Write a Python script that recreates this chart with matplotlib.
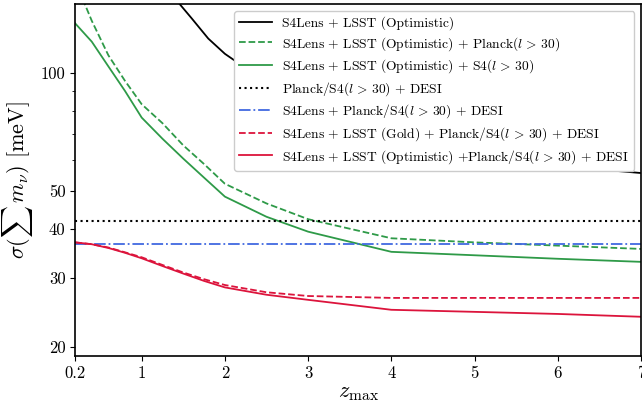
import numpy as np
import matplotlib
matplotlib.use("Agg")
import matplotlib.pyplot as plt
from matplotlib.ticker import FixedLocator, FixedFormatter, NullFormatter

plt.rcParams['font.family'] = 'serif'
plt.rcParams['font.serif'] = ['cmr10', 'DejaVu Serif']
plt.rcParams['mathtext.fontset'] = 'cm'
plt.rcParams['axes.unicode_minus'] = False
plt.rcParams['axes.formatter.use_mathtext'] = True

# z_max grid
z_black = [1.0, 1.2, 1.4, 1.6, 1.8, 2.0, 3.0, 4.0, 5.0, 6.0, 7.0]
s_black = [205, 176, 155, 138, 122.5, 112, 80, 66, 61, 58, 55.6]

z_green = [0.2, 0.4, 0.6, 0.8, 1.0, 1.25, 1.5, 1.75, 2.0, 2.5, 3.0, 4.0, 5.0, 6.0, 7.0]
s_green_planck = [172, 136, 111, 95.5, 83.3, 74.5, 65.4, 58.6, 52.2, 46.5, 42.4, 37.9, 37.0, 36.3, 35.6]
s_green_s4 = [134, 120.3, 104, 90, 77, 68, 60.5, 54.1, 48.4, 43.0, 39.4, 35.0, 34.3, 33.6, 33.0]

planck_desi = 41.9
s4lens_planck_desi = 36.6

z_red = [0.2, 0.4, 0.6, 0.8, 1.0, 1.25, 1.5, 1.75, 2.0, 2.5, 3.0, 4.0, 5.0, 6.0, 7.0]
s_red_gold = [37.0, 36.6, 35.9, 34.9, 33.9, 32.4, 31.0, 29.8, 28.8, 27.6, 27.0, 26.7, 26.7, 26.7, 26.7]
s_red_opt = [37.0, 36.6, 35.8, 34.8, 33.7, 32.2, 30.8, 29.5, 28.4, 27.2, 26.4, 24.9, 24.6, 24.3, 23.9]

labels = [
    'S4Lens + LSST (Optimistic)',
    r'S4Lens + LSST (Optimistic) + Planck($l \,>\, 30$)',
    r'S4Lens + LSST (Optimistic) + S4($l \,>\, 30$)',
    r'Planck/S4($l \,>\, 30$) + DESI',
    r'S4Lens + Planck/S4($l \,>\, 30$) + DESI',
    r'S4Lens + LSST (Gold) + Planck/S4($l \,>\, 30$) + DESI',
    r'S4Lens + LSST (Optimistic) +Planck/S4($l \,>\, 30$) + DESI',
]

green = '#2e9a48'
red = '#dc143c'
blue = '#4169e1'

fig = plt.figure(figsize=(6.42, 4.09), dpi=100)
ax = fig.add_axes([0.117, 0.130, 0.8815, 0.860])

ax.plot(z_black, s_black, color='black', lw=1.3, label=labels[0])
ax.plot(z_green, s_green_planck, color=green, lw=1.3, ls='--', label=labels[1])
ax.plot(z_green, s_green_s4, color=green, lw=1.3, label=labels[2])
ax.axhline(planck_desi, color='black', lw=1.5, ls=':', label=labels[3])
ax.axhline(s4lens_planck_desi, color=blue, lw=1.3, ls='-.', label=labels[4])
ax.plot(z_red, s_red_gold, color=red, lw=1.3, ls='--', label=labels[5])
ax.plot(z_red, s_red_opt, color=red, lw=1.3, label=labels[6])

ax.set_yscale('log')
ax.set_xlim(0.2, 7)
ax.set_ylim(19, 150)
ax.yaxis.set_major_locator(FixedLocator([20, 30, 40, 50, 100]))
ax.yaxis.set_minor_locator(FixedLocator([60, 70, 80, 90]))
ax.yaxis.set_major_formatter(FixedFormatter(['20', '30', '40', '50', '100']))
ax.yaxis.set_minor_formatter(NullFormatter())
ax.set_xticks([0.2, 1, 2, 3, 4, 5, 6, 7])
ax.set_xticklabels(['0.2', '1', '2', '3', '4', '5', '6', '7'])
ax.tick_params(labelsize=12)
for s in ax.spines.values():
    s.set_linewidth(1.2)

ax.set_xlabel(r'$z_{\rm max}$', fontsize=16, labelpad=2)
ax.set_ylabel(r'$\sigma(\sum\, m_\nu)$ [meV]', fontsize=16)

leg = ax.legend(loc='upper right', fontsize=9.7, framealpha=1, borderaxespad=0.5,
                labelspacing=0.36, handlelength=2.4)

fig.savefig('out.png', dpi=100)
